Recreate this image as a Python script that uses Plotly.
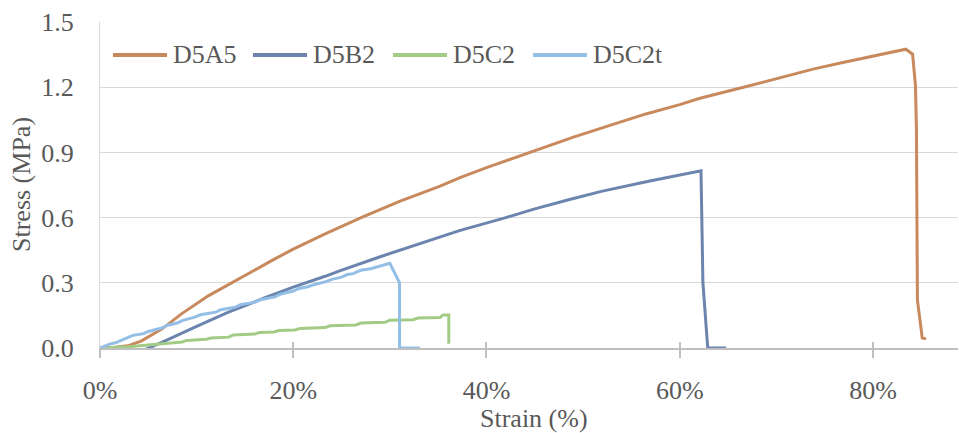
import plotly.graph_objects as go

# ---------------- data (strain in %, stress in MPa) ----------------
series_names = ["D5A5", "D5B2", "D5C2", "D5C2t"]
series_colors = ["#C8895D", "#6B85AF", "#A2CC85", "#93BEE6"]

d5a5_strain = [0, 1.5, 2.9, 4.3, 6.4, 8.4, 11.2, 14, 18.1, 20, 23.3, 27.2, 31, 35.2, 37.2, 40,
               44.8, 49, 53.1, 56.5, 60, 62, 66.9, 70, 73.8, 77, 80.7, 83.4, 84.1, 84.4,
               84.5, 84.6, 85.1, 85.5]
d5a5_stress = [0, 0.003, 0.01, 0.033, 0.087, 0.156, 0.24, 0.31, 0.41, 0.455, 0.525, 0.603,
               0.675, 0.745, 0.783, 0.83, 0.906, 0.97, 1.029, 1.077, 1.12, 1.148, 1.203, 1.24,
               1.283, 1.315, 1.348, 1.375, 1.352, 1.206, 1.0, 0.22, 0.046, 0.042]

d5b2_strain = [4.0, 6.4, 10, 13.3, 17, 20, 23.3, 24.8, 29, 33, 37.2, 42, 45, 48.6, 52,
               56.9, 60, 62.2, 62.4, 62.7, 62.9, 64.8]
d5b2_stress = [-0.02, 0.026, 0.10, 0.165, 0.23, 0.28, 0.33, 0.355, 0.42, 0.48, 0.54, 0.60,
               0.64, 0.683, 0.722, 0.768, 0.795, 0.815, 0.30, 0.13, 0.0, 0.0]

d5c2_strain = [0, 3, 5, 6.4, 8.5, 9, 11, 11.5, 13.3, 13.8, 16, 16.5, 18, 18.5, 20.2, 20.7,
               23.3, 23.8, 26.5, 27, 29.5, 30, 32.4, 32.9, 35.2, 35.5, 36.1, 36.1]
d5c2_stress = [0, 0.006, 0.014, 0.02, 0.028, 0.035, 0.04, 0.046, 0.05, 0.06, 0.064, 0.071,
               0.074, 0.08, 0.083, 0.09, 0.094, 0.102, 0.106, 0.115, 0.118, 0.128, 0.13,
               0.138, 0.14, 0.152, 0.152, 0.02]

d5c2t_strain = [0, 1, 1.6, 2.9, 3.4, 4.5, 5, 6.4, 7, 8, 8.5, 9.8, 10.4, 12, 12.5, 14, 14.6,
                16, 16.6, 18.1, 18.7, 20, 20.6, 21.5, 22.2, 23.3, 24, 25, 25.6, 26.2, 27,
                28, 30, 31, 31, 33.1]
d5c2t_stress = [0, 0.018, 0.024, 0.046, 0.058, 0.066, 0.076, 0.092, 0.105, 0.115, 0.126,
                0.142, 0.153, 0.165, 0.176, 0.188, 0.2, 0.21, 0.222, 0.235, 0.248, 0.262,
                0.274, 0.282, 0.292, 0.304, 0.316, 0.326, 0.338, 0.342, 0.358, 0.365, 0.39,
                0.30, 0.0, 0.0]

x_tick_vals = [0, 20, 40, 60, 80]
x_tick_text = ["0%", "20%", "40%", "60%", "80%"]
y_tick_vals = [0.0, 0.3, 0.6, 0.9, 1.2, 1.5]
y_tick_text = ["0.0", "0.3", "0.6", "0.9", "1.2", "1.5"]

all_x = [d5a5_strain, d5b2_strain, d5c2_strain, d5c2t_strain]
all_y = [d5a5_stress, d5b2_stress, d5c2_stress, d5c2t_stress]

FONT = "Liberation Serif"
TXT = "#595959"

fig = go.Figure()
for name, col, xs, ys in zip(series_names, series_colors, all_x, all_y):
    fig.add_trace(go.Scatter(x=xs, y=ys, mode="lines", name=name,
                             line=dict(color=col, width=3), showlegend=False))

# invisible trace on overlay axis so the inside tick marks render
fig.add_trace(go.Scatter(x=[0], y=[0], xaxis="x2", mode="markers",
                         marker=dict(opacity=0), showlegend=False, hoverinfo="skip"))

W, H = 959, 433
L, R, T, B = 100, 1, 22, 85
pw, ph = W - L - R, H - T - B

def px(xp):
    return (xp - L) / pw

def py(yp):
    return (H - B - yp) / ph

fig.update_layout(
    width=W, height=H,
    margin=dict(l=L, r=R, t=T, b=B),
    paper_bgcolor="white", plot_bgcolor="white",
    font=dict(family=FONT, size=26, color=TXT),
    xaxis=dict(range=[0, 88.8], tickmode="array", tickvals=x_tick_vals, ticktext=x_tick_text,
               showgrid=False, zeroline=False, showline=True,
               linecolor="#BFBFBF", linewidth=1.5,
               ticks="outside", ticklen=8, tickcolor="#BFBFBF", tickwidth=1.5,
               ticklabelstandoff=10,
               tickfont=dict(family=FONT, size=26, color=TXT)),
    xaxis2=dict(range=[0, 88.8], tickmode="array", tickvals=x_tick_vals, overlaying="x",
                anchor="y", side="bottom", showticklabels=False, showgrid=False,
                zeroline=False, showline=False, ticks="inside", ticklen=6,
                tickcolor="#BFBFBF", tickwidth=1.5),
    yaxis=dict(range=[0, 1.5], tickmode="array", tickvals=y_tick_vals, ticktext=y_tick_text,
               showgrid=True, gridcolor="#D9D9D9", gridwidth=1.2,
               zeroline=False, showline=True, linecolor="#D9D9D9", linewidth=1.2,
               ticks="", ticklabelstandoff=20,
               tickfont=dict(family=FONT, size=26, color=TXT)),
    showlegend=False,
)

# axis titles
fig.add_annotation(text="Stress (MPa)", xref="paper", yref="paper",
                   x=px(21), y=py(185), xanchor="center", yanchor="middle",
                   textangle=-90, showarrow=False,
                   font=dict(family=FONT, size=26, color=TXT))
fig.add_annotation(text="Strain (%)", xref="paper", yref="paper",
                   x=px(534), y=py(418), xanchor="center", yanchor="middle",
                   showarrow=False, font=dict(family=FONT, size=26, color=TXT))

# custom legend (long line samples like the original)
for i, (name, col) in enumerate(zip(series_names, series_colors)):
    x0 = 113 + 140 * i
    fig.add_shape(type="line", xref="paper", yref="paper",
                  x0=px(x0), x1=px(x0 + 54), y0=py(55), y1=py(55),
                  line=dict(color=col, width=4))
    fig.add_annotation(text=name, xref="paper", yref="paper",
                       x=px(x0 + 58), y=py(55), xanchor="left", yanchor="middle",
                       showarrow=False, font=dict(family=FONT, size=26, color=TXT))

fig.write_html("out.html", config={"displayModeBar": False},
               post_script="document.body.style.margin='0';")
